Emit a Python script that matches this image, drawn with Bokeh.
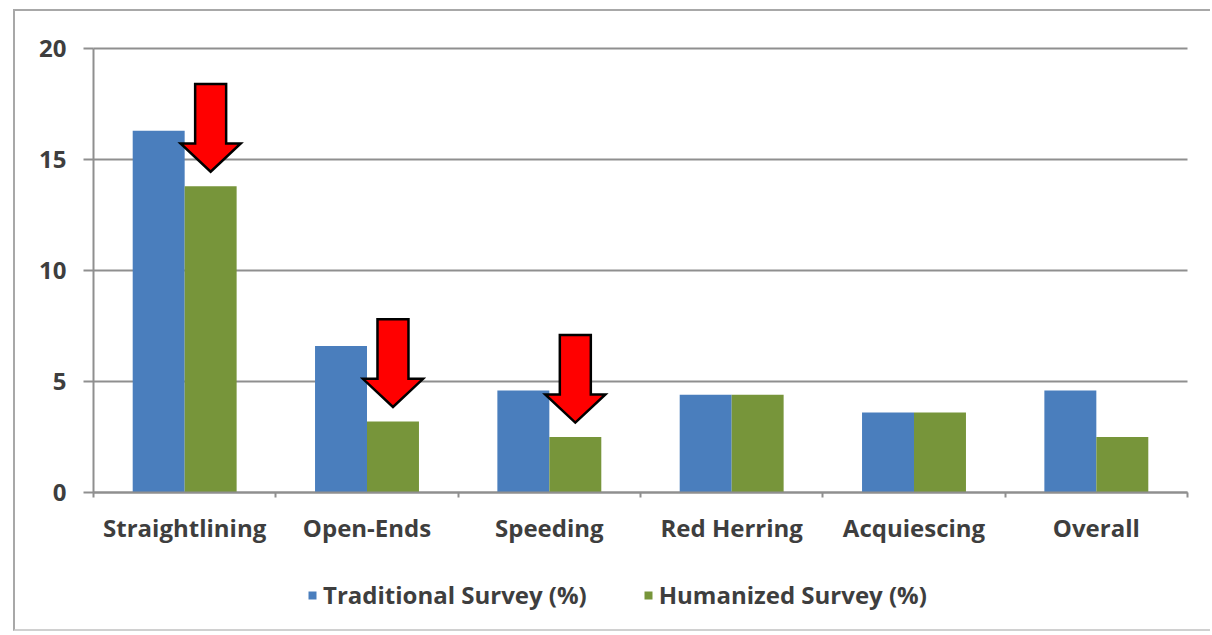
from bokeh.plotting import figure
from bokeh.models import Range1d, FixedTicker, Legend, LegendItem, ColumnDataSource
from bokeh.embed import file_html
from bokeh.resources import INLINE

# Data quality issues flagged per survey type (%)
categories = ["Straightlining", "Open-Ends", "Speeding", "Red Herring", "Acquiescing", "Overall"]
traditional = [16.3, 6.6, 4.6, 4.4, 3.6, 4.6]
humanized = [13.8, 3.2, 2.5, 4.4, 3.6, 2.5]
series_names = ["Traditional Survey (%)", "Humanized Survey (%)"]
y_ticks = [0, 5, 10, 15, 20]
# categories where the humanized survey brings a drop worth pointing at
highlighted = ["Straightlining", "Open-Ends", "Speeding"]

BLUE = "#4a7ebd"
GREEN = "#77953a"
TEXT = "#3e3e3e"
GRID = "#8f8f8f"
FONT = "Open Sans"

n = len(categories)
centers = [i + 0.5 for i in range(n)]
bar_w = 0.285
half = bar_w / 2

# The frame fills the whole bordered chart box; axes sit at x=0 / y=0 inside it.
W, H = 1197, 622
px_x = 1094 / n          # pixels per category
px_y = 444 / 20          # pixels per percentage point
x0 = -78 / px_x
y1 = 20 + 37 / px_y
p = figure(width=W, height=H, output_backend="svg", toolbar_location=None,
           x_range=Range1d(x0, x0 + W / px_x), y_range=Range1d(y1 - H / px_y, y1),
           min_border=0)
p.margin = (9, 0, 0, 13)
p.styles = {"border-left": "2px solid #a8a8a8", "border-top": "2px solid #a8a8a8",
            "border-bottom": "2px solid #d0d0d0", "border-right": "0px none"}
p.outline_line_color = None
p.background_fill_color = "white"
p.border_fill_color = "white"
p.xgrid.visible = False
p.ygrid.visible = False

# horizontal gridlines across the category span
p.segment(x0=[0] * len(y_ticks), x1=[n] * len(y_ticks), y0=y_ticks, y1=y_ticks,
          line_color=GRID, line_width=2)

src = ColumnDataSource(dict(
    xb=[c - half for c in centers], xg=[c + half for c in centers],
    trad=traditional, hum=humanized))
rb = p.vbar(x="xb", top="trad", width=bar_w, source=src, fill_color=BLUE, line_color=None)
rg = p.vbar(x="xg", top="hum", width=bar_w, source=src, fill_color=GREEN, line_color=None)

# red arrows pointing down at the humanized bars
xs, ys = [], []
for cat in highlighted:
    i = categories.index(cat)
    cx = centers[i] + half
    tip = humanized[i] + 0.65
    base = tip + 1.27
    top = tip + 3.95
    sw, hw = 0.085, 0.165
    xs.append([cx - sw, cx + sw, cx + sw, cx + hw, cx, cx - hw, cx - sw])
    ys.append([top, top, base, base, tip, base, base])
p.patches(xs, ys, fill_color="#ff0000", line_color="black", line_width=2.5,
          line_join="miter")

# axes
p.yaxis.fixed_location = 0
p.yaxis.bounds = (0, 20)
p.yaxis.ticker = FixedTicker(ticks=y_ticks)
p.yaxis.minor_tick_line_color = None
p.yaxis.major_tick_out = 10
p.yaxis.major_tick_in = 0
p.yaxis.major_tick_line_color = GRID
p.yaxis.major_tick_line_width = 2
p.yaxis.axis_line_color = GRID
p.yaxis.axis_line_width = 2
p.yaxis.major_label_standoff = 17
p.yaxis.major_label_text_font = FONT
p.yaxis.major_label_text_font_size = "24px"
p.yaxis.major_label_text_color = TEXT
p.yaxis.major_label_text_font_style = "bold"

p.xaxis.fixed_location = 0
p.xaxis.bounds = (0, n)
p.xaxis.ticker = FixedTicker(ticks=centers, minor_ticks=list(range(n + 1)))
p.xaxis.major_label_overrides = {c: name for c, name in zip(centers, categories)}
p.xaxis.major_tick_line_color = None
p.xaxis.major_tick_out = 0
p.xaxis.major_tick_in = 0
p.xaxis.minor_tick_out = 5
p.xaxis.minor_tick_in = 0
p.xaxis.minor_tick_line_color = GRID
p.xaxis.minor_tick_line_width = 2
p.xaxis.axis_line_color = GRID
p.xaxis.axis_line_width = 2
p.xaxis.major_label_standoff = 13
p.xaxis.major_label_text_font = FONT
p.xaxis.major_label_text_font_size = "24px"
p.xaxis.major_label_text_color = TEXT
p.xaxis.major_label_text_font_style = "bold"

legend = Legend(items=[LegendItem(label=series_names[0], renderers=[rb]),
                       LegendItem(label=series_names[1], renderers=[rg])],
                orientation="horizontal", location=(292, 22))
legend.padding = 0
legend.margin = 0
legend.spacing = 56
legend.border_line_color = None
legend.background_fill_alpha = 0
legend.glyph_width = 10
legend.glyph_height = 10
legend.label_standoff = 6
legend.label_height = 26
legend.label_text_font = FONT
legend.label_text_font_size = "24px"
legend.label_text_color = TEXT
legend.label_text_font_style = "bold"
p.add_layout(legend)

open("out.html", "w").write(file_html(p, INLINE))
